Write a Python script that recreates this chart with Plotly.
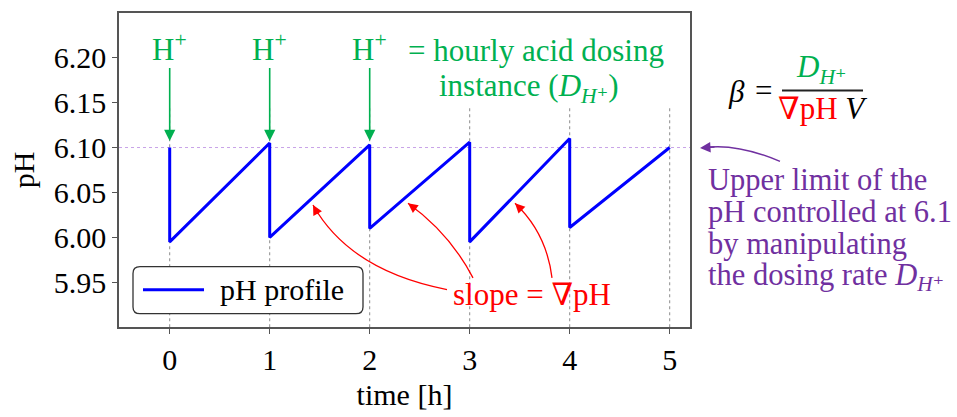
import plotly.graph_objects as go

# Hourly sawtooth: two points per dosing instant (before / after the acid dose)
time_h = [0, 0, 1, 1, 2, 2, 3, 3, 4, 4, 5]
ph_values = [6.100, 5.995, 6.105, 6.000, 6.103, 6.010, 6.106, 5.995, 6.110, 6.011, 6.100]

x_ticks = [0, 1, 2, 3, 4, 5]
y_ticks = [5.95, 6.00, 6.05, 6.10, 6.15, 6.20]
y_tick_text = ["5.95", "6.00", "6.05", "6.10", "6.15", "6.20"]
upper_limit = 6.10
dose_times = [0, 1, 2]
dose_peak = 6.105

W, H = 957, 417
L, R, T, B = 119, 267, 11, 78
FONT = "Liberation Serif, DejaVu Serif"
GREEN = "#00B050"
RED = "#FF0000"
PURPLE = "#7030A0"


def fx(px):
    return (px - L) / (W - L - R)


def fy(py):
    return (H - B - py) / (H - T - B)


def label(px, py, text, color, xanchor="center", size=30):
    return dict(xref="paper", yref="paper", x=fx(px), y=fy(py), text=text,
                xanchor=xanchor, yanchor="middle", showarrow=False,
                font=dict(family=FONT, size=size, color=color))


fig = go.Figure()
fig.add_trace(go.Scatter(x=time_h, y=ph_values, mode="lines",
                         line=dict(color="#0000FF", width=3),
                         name="pH profile", showlegend=False))

shapes = []
# dotted hourly markers
for t in x_ticks:
    shapes.append(dict(type="line", xref="x", yref="y", x0=t, x1=t, y0=5.9, y1=6.147,
                       line=dict(color="#8c8c8c", width=1, dash="dot"), layer="below"))
# upper pH limit
shapes.append(dict(type="line", xref="paper", yref="y", x0=0, x1=1,
                   y0=upper_limit, y1=upper_limit,
                   line=dict(color="#c9a3e8", width=1, dash="dot"), layer="below"))

# red curved arrows to the rising segments (start, control, tip)
slope_curves = [
    ((2.773, 5.942), (1.803, 5.963), (1.433, 6.036)),
    ((3.033, 5.955), (2.798, 6.005), (2.383, 6.038)),
    ((3.823, 5.955), (3.768, 6.005), (3.453, 6.038)),
]
slope_heads = [(5.7, 10.5), (9.6, 7.2), (8.5, 8.4)]
for (s, c, e) in slope_curves:
    shapes.append(dict(type="path", xref="x", yref="y",
                       path=f"M {s[0]},{s[1]} Q {c[0]},{c[1]} {e[0]},{e[1]}",
                       line=dict(color=RED, width=1.3)))

# purple curved arrow towards the upper limit
shapes.append(dict(type="path", xref="paper", yref="paper",
                   path=f"M {fx(780)},{fy(166)} Q {fx(735)},{fy(146)} {fx(702)},{fy(152)}",
                   line=dict(color=PURPLE, width=1.5)))

# fraction bar of beta
shapes.append(dict(type="line", xref="paper", yref="paper",
                   x0=fx(782), x1=fx(863), y0=fy(92), y1=fy(92),
                   line=dict(color="#222222", width=2)))

# legend box
x0, x1, y0, y1, r = fx(133), fx(363), fy(276), fy(325), 7
rx, ry = r / (W - L - R), r / (H - T - B)
legend_path = (f"M {x0+rx},{y0} L {x1-rx},{y0} Q {x1},{y0} {x1},{y0-ry} "
               f"L {x1},{y1+ry} Q {x1},{y1} {x1-rx},{y1} L {x0+rx},{y1} "
               f"Q {x0},{y1} {x0},{y1+ry} L {x0},{y0-ry} Q {x0},{y0} {x0+rx},{y0} Z")
shapes.append(dict(type="path", xref="paper", yref="paper", path=legend_path,
                   fillcolor="white", line=dict(color="#333333", width=1.3), layer="above"))
shapes.append(dict(type="line", xref="paper", yref="paper",
                   x0=fx(143), x1=fx(204), y0=fy(300), y1=fy(300),
                   line=dict(color="#0000FF", width=3), layer="above"))

annotations = [label(218, 300, "pH profile", "black", xanchor="left")]

# green dosing arrows
for t in dose_times:
    annotations.append(dict(x=t, y=dose_peak, xref="x", yref="y", text="H<sup>+</sup>",
                            xanchor="center", yanchor="middle",
                            showarrow=True, ax=0, ay=-96, arrowhead=2, arrowsize=1.4,
                            arrowwidth=1.6, arrowcolor=GREEN, standoff=2,
                            font=dict(family=FONT, size=31, color=GREEN)))
annotations.append(label(406, 50, "= hourly acid dosing", GREEN, xanchor="left", size=31))
annotations.append(label(437, 89, "instance (<i>D</i><sub><i>H</i>⁺</sub>)", GREEN,
                         xanchor="left", size=31))

# slope label and arrowheads
annotations.append(label(532, 305, "slope = ∇pH", RED, size=31))
for (s, c, e), (hx, hy) in zip(slope_curves, slope_heads):
    annotations.append(dict(x=e[0], y=e[1], xref="x", yref="y", text="", showarrow=True,
                            ax=hx, ay=hy, arrowhead=2, arrowsize=1.5, arrowwidth=1.3,
                            arrowcolor=RED, standoff=0))

# beta formula
annotations.append(label(736, 93, "<i>β</i>", "black", size=31))
annotations.append(label(763, 92, "=", "black", size=31))
annotations.append(label(821, 70, "<i>D</i><sub><i>H</i>⁺</sub>", GREEN, size=31))
annotations.append(label(822, 111, "<span style='color:#FF0000'>∇pH</span> <i>V</i>",
                         "black", size=31))

# purple note
annotations.append(dict(xref="paper", yref="paper", x=fx(700), y=fy(152), text="",
                        showarrow=True, ax=16, ay=-1, arrowhead=2, arrowsize=1.4,
                        arrowwidth=1.5, arrowcolor=PURPLE, standoff=0))
note_lines = ["Upper limit of the", "pH controlled at 6.1", "by manipulating",
              "the dosing rate <i>D</i><sub><i>H</i>⁺</sub>"]
for line, cy in zip(note_lines, [185, 219, 252, 287]):
    annotations.append(label(706, cy, line, PURPLE, xanchor="left", size=30.5))

fig.update_layout(
    width=W, height=H,
    margin=dict(l=L, r=R, t=T, b=B),
    paper_bgcolor="white", plot_bgcolor="white",
    font=dict(family=FONT, size=30, color="black"),
    shapes=shapes, annotations=annotations,
    showlegend=False,
)
fig.update_xaxes(range=[-0.507, 5.203], tickvals=x_ticks, ticks="outside", ticklen=5,
                 tickcolor="#555555", showline=True, linecolor="#555555", linewidth=1.5,
                 mirror=True, showgrid=False, zeroline=False,
                 title=dict(text="time [h]", font=dict(family=FONT, size=30), standoff=9),
                 tickfont=dict(family=FONT, size=30))
fig.update_yaxes(range=[5.9003, 6.2497], tickvals=y_ticks, ticktext=y_tick_text,
                 ticks="outside", ticklen=5, tickcolor="#555555", showline=True,
                 linecolor="#555555", linewidth=1.5, mirror=True, showgrid=False,
                 zeroline=False,
                 title=dict(text="pH", font=dict(family=FONT, size=30), standoff=10),
                 tickfont=dict(family=FONT, size=30))

fig.write_html("out.html")
